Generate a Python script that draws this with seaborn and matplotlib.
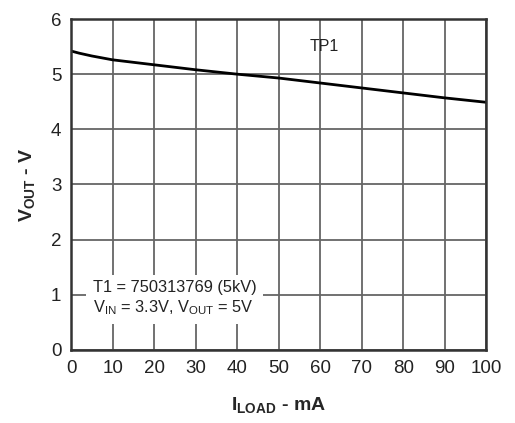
import numpy as np
import pandas as pd
import seaborn as sns
import matplotlib
matplotlib.use("Agg")
import matplotlib.pyplot as plt

# values
i_load = [0, 2, 5, 10, 20, 30, 40, 50, 60, 70, 80, 90, 100]
v_out = [5.42, 5.38, 5.33, 5.26, 5.17, 5.08, 5.00, 4.93, 4.84, 4.75, 4.66, 4.57, 4.49]
x_ticks = list(range(0, 101, 10))
y_ticks = list(range(0, 7))

df = pd.DataFrame({"iload": i_load, "vout": v_out})

sns.set_style("white")
plt.rcParams['font.family'] = ['Liberation Sans', 'DejaVu Sans']
plt.rcParams['mathtext.fontset'] = 'custom'
plt.rcParams['mathtext.rm'] = 'Liberation Sans'
plt.rcParams['mathtext.bf'] = 'Liberation Sans:bold'

fig = plt.figure(figsize=(5.15, 4.23), dpi=100)
ax = fig.add_axes([0.138, 0.173, 0.806, 0.782])

sns.lineplot(data=df, x="iload", y="vout", color="black", linewidth=2, ax=ax)

ax.set_xlim(0, 100)
ax.set_ylim(0, 6)
ax.set_xticks(x_ticks)
ax.set_yticks(y_ticks)
ax.tick_params(axis='both', length=0, pad=7, labelsize=13.5, labelcolor='#222222')
ax.grid(True, color='#666666', linewidth=1.3)
ax.set_axisbelow(True)
for s in ax.spines.values():
    s.set_color('#333333')
    s.set_linewidth(1.8)

ax.set_xlabel(r'$\mathbf{I_{LOAD}}$ - mA', fontsize=14, fontweight='bold', labelpad=13)
ax.set_ylabel(r'$\mathbf{V_{OUT}}$ - V', fontsize=14, fontweight='bold', labelpad=10)

ax.text(57.5, 5.5, 'TP1', fontsize=11.5, color='#222222', ha='left', va='center')
ax.text(5.2, 0.93, 'T1 = 750313769 (5kV)\n' + r'V$_{\mathrm{IN}}$ = 3.3V, V$_{\mathrm{OUT}}$ = 5V',
        fontsize=11.8, color='#222222', ha='left', va='center', linespacing=1.2,
        bbox=dict(facecolor='white', edgecolor='none', pad=5))

plt.savefig("out.png", dpi=100)
